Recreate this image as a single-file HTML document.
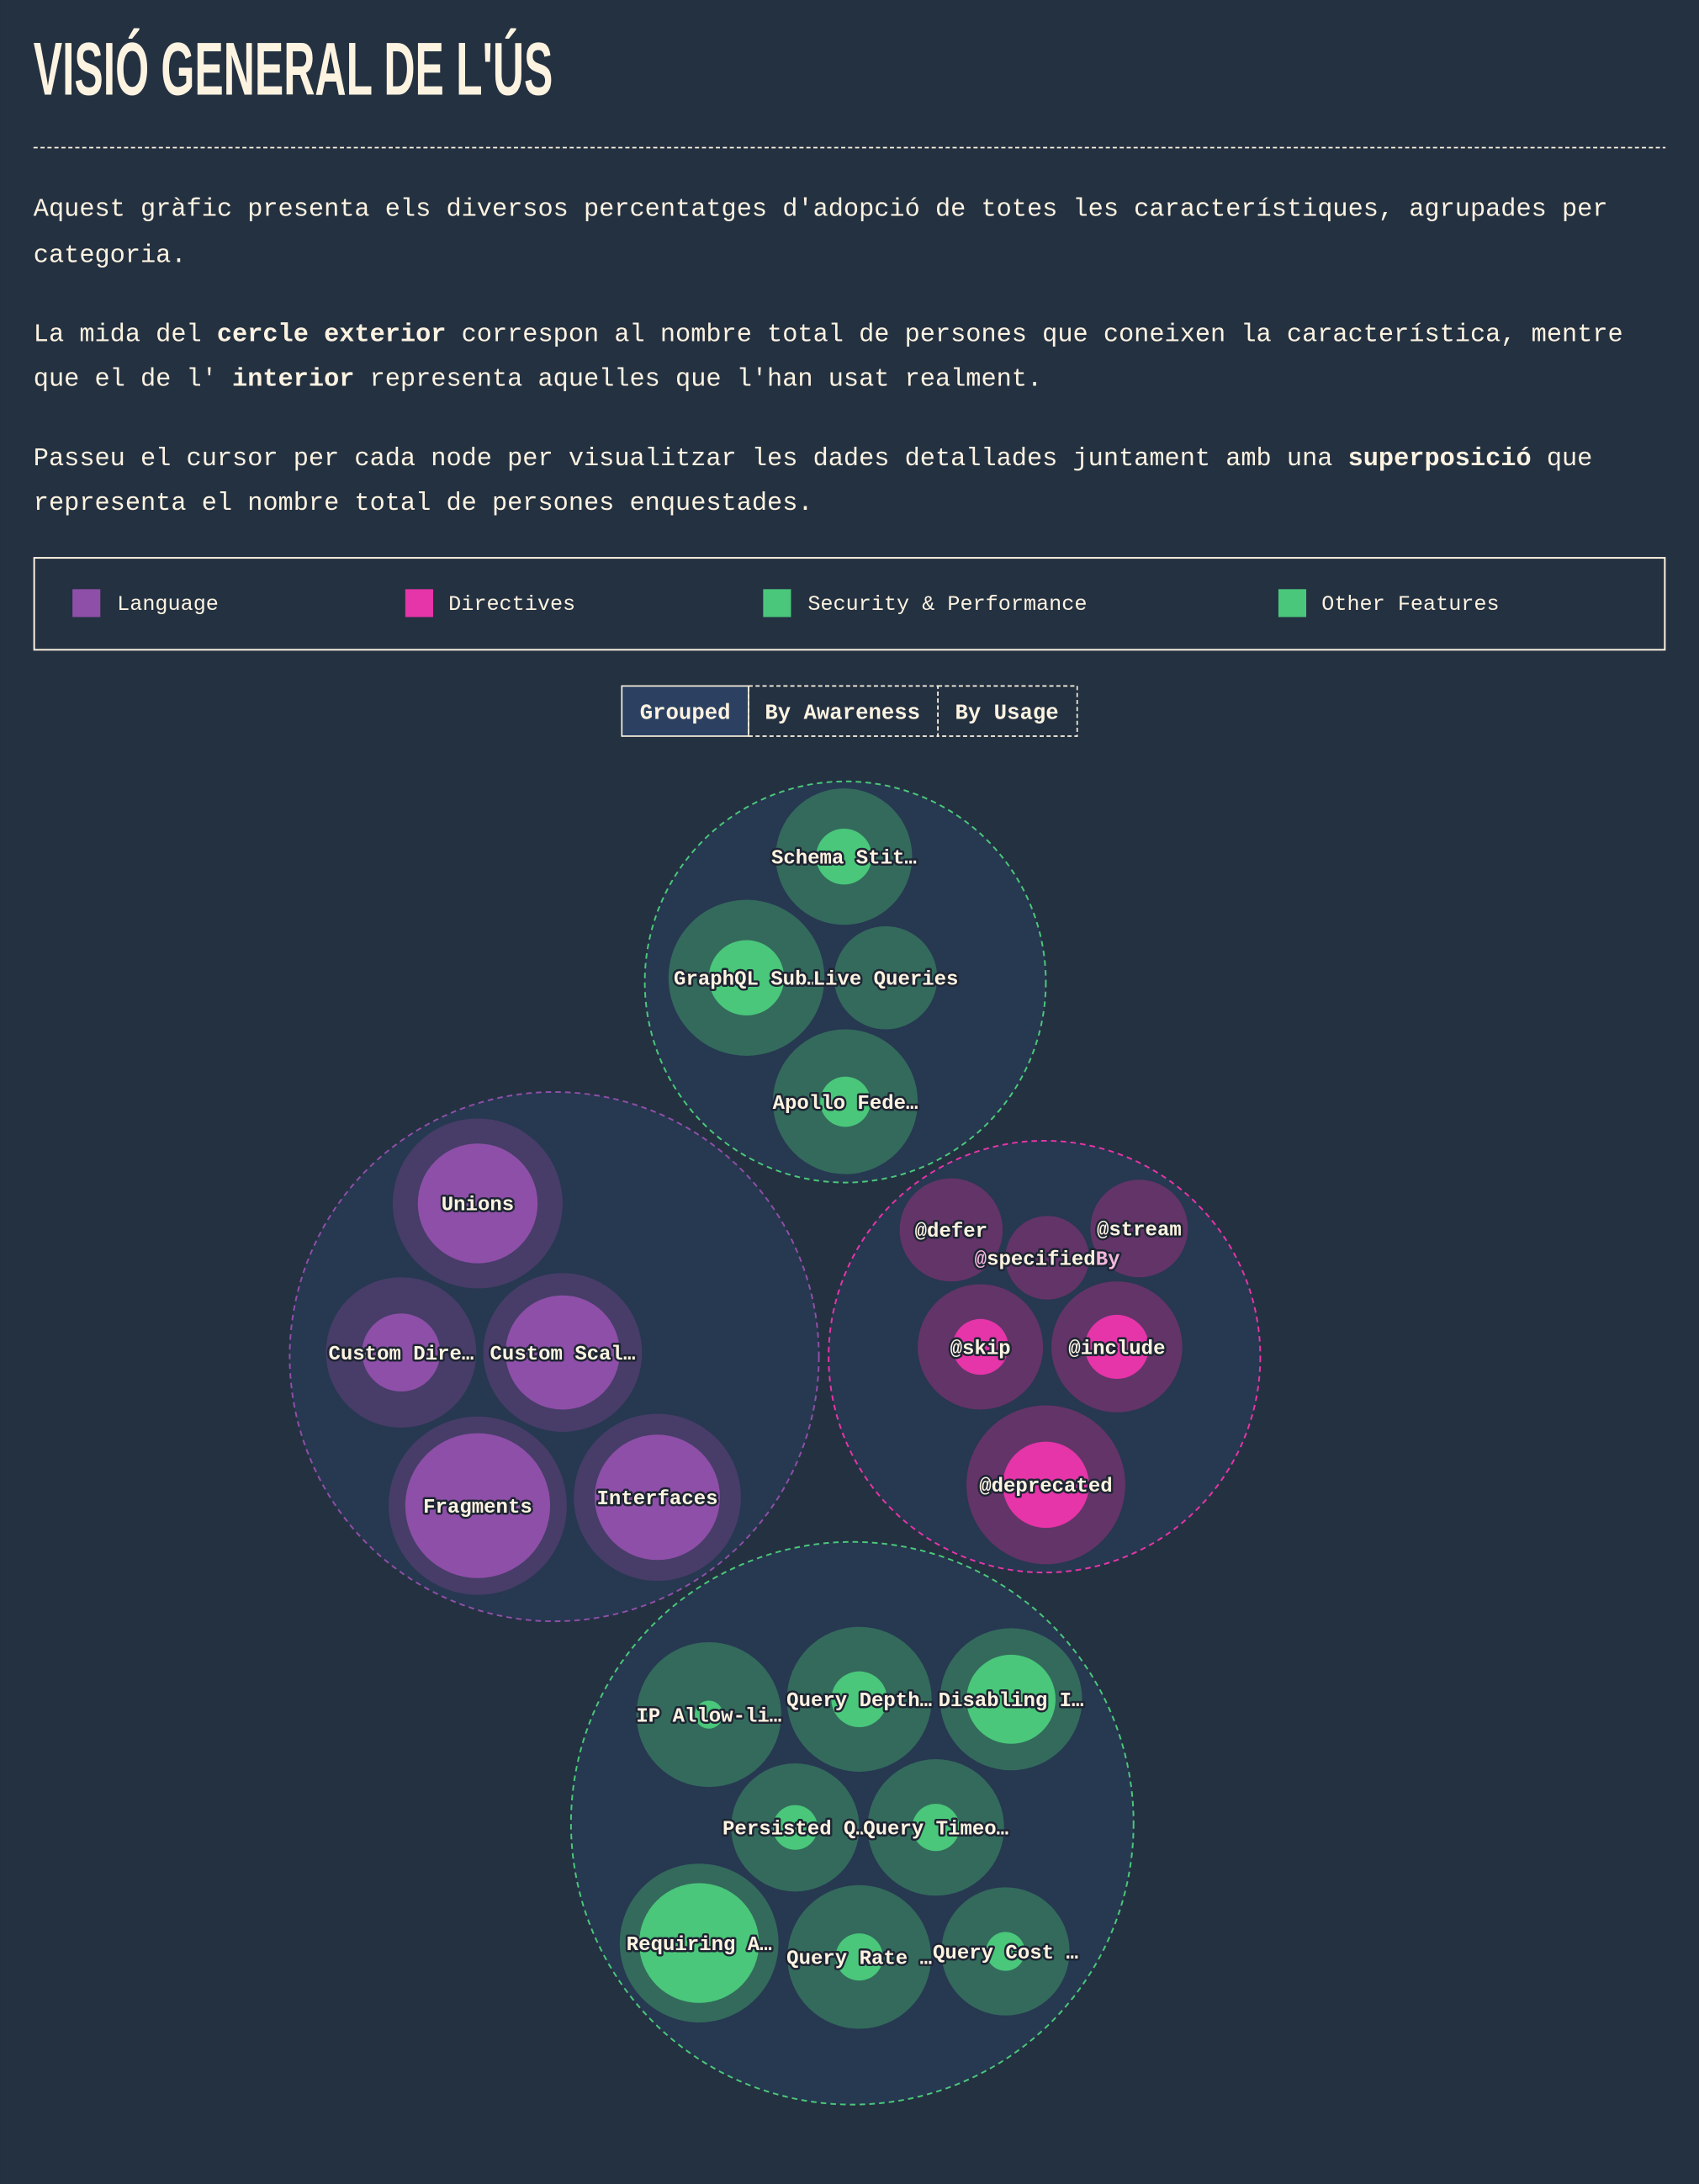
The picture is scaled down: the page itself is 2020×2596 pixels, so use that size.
<!DOCTYPE html>
<html><head><meta charset="utf-8"><style>
html,body{margin:0;padding:0;background:#243141;}
svg{display:block}
.mono{font-family:"Liberation Mono",monospace}
</style></head><body>
<svg id="chart" width="2020" height="2596" viewBox="0 0 1220 1568" xmlns="http://www.w3.org/2000/svg">
<rect width="1220" height="1568" fill="#243141"/>
<text x="24" y="68" fill="#fdf3e1" font-family="Liberation Sans Narrow, Liberation Sans, sans-serif" font-weight="bold" font-size="54" textLength="373" lengthAdjust="spacingAndGlyphs">VISIÓ GENERAL DE L'ÚS</text>
<line x1="24" y1="106" x2="1196" y2="106" stroke="#fdf3e1" stroke-width="1" stroke-dasharray="3,2"/>
<g class="mono" font-size="18.3" fill="#fdf3e1">
<text x="24" y="155">Aquest gràfic presenta els diversos percentatges d'adopció de totes les característiques, agrupades per</text>
<text x="24" y="188">categoria.</text>
<text x="24" y="245">La mida del <tspan font-weight="bold">cercle exterior</tspan> correspon al nombre total de persones que coneixen la característica, mentre</text>
<text x="24" y="277">que el de l' <tspan font-weight="bold">interior</tspan> representa aquelles que l'han usat realment.</text>
<text x="24" y="334">Passeu el cursor per cada node per visualitzar les dades detallades juntament amb una <tspan font-weight="bold">superposició</tspan> que</text>
<text x="24" y="366">representa el nombre total de persones enquestades.</text>
</g>
<g class="mono" font-size="15.2" fill="#fdf3e1">
<rect x="24.5" y="400.5" width="1171" height="66" fill="none" stroke="#fdf3e1" stroke-width="1.2"/>
<g><rect x="52" y="423" width="20" height="20" fill="#8e4fa8"/><text x="84" y="438">Language</text></g>
<g><rect x="291" y="423" width="20" height="20" fill="#e535a8"/><text x="322" y="438">Directives</text></g>
<g><rect x="548" y="423" width="20" height="20" fill="#4ac77a"/><text x="580" y="438">Security &amp; Performance</text></g>
<g><rect x="918" y="423" width="20" height="20" fill="#4ac77a"/><text x="949" y="438">Other Features</text></g>
</g>
<g class="mono" font-size="15.5" font-weight="bold" fill="#fdf3e1" text-anchor="middle">
<g><rect x="446.5" y="492.5" width="91" height="36" fill="#2c4162" stroke="#fdf3e1"/><text x="492" y="516">Grouped</text></g>
<g><rect x="537.5" y="492.5" width="136" height="36" fill="none" stroke="#fdf3e1" stroke-dasharray="3,2"/><text x="605" y="516">By Awareness</text></g>
<g><rect x="673.5" y="492.5" width="100" height="36" fill="none" stroke="#fdf3e1" stroke-dasharray="3,2"/><text x="723" y="516">By Usage</text></g>
</g>
<g id="bubbles"></g>
</svg>
<script>
// data
const groupNames = ["Other Features","Language","Directives","Security & Performance"];
const featureNames = ["Schema Stit…","GraphQL Sub…","Live Queries","Apollo Fede…",
 "Unions","Custom Dire…","Custom Scal…","Fragments","Interfaces",
 "@defer","@stream","@specifiedBy","@skip","@include","@deprecated",
 "IP Allow-li…","Query Depth…","Disabling I…","Persisted Q…","Query Timeo…","Requiring A…","Query Rate …","Query Cost …"];
const featureGroup = [0,0,0,0, 1,1,1,1,1, 2,2,2,2,2,2, 3,3,3,3,3,3,3,3];
const awareness = [56.8,74.2,32.4,64, 88,69,76.9,96.9,85.2, 32.4,29,21.3,47.9,52.3,76.9, 64,64,61.6,50.1,56.8,76.9,63,50.1];
const usage = [9.5,17.3,0.4,7.7, 43.8,18.6,39.8,64,47.9, 0,0,0,9.5,12.5,22.7, 2.4,9.5,24.2,6.1,6.8,43.8,6.8,4.6];
// layout (pack positions, not data)
const groupLayout = [[607,705,144],[398,974,190],[750,974,155],[612,1309,202]];
const nodeLayout = [[606,615],[536,702],[636,702],[607,791],
 [343,864],[288,971],[404,971],[343,1081],[472,1075],
 [683,883],[818,882],[752,903],[704,967],[802,967],[751,1066],
 [509,1231],[617,1220],[726,1220],[571,1312],[672,1312],[502,1395],[617,1405],[722,1401]];
const groupStroke = ["#4ac77a","#8e4fa8","#e535a8","#4ac77a"];
const outerFill = ["#336a5c","#473d68","#633468","#336a5c"];
const innerFill = ["#4ac77a","#8e4fa8","#e535a8","#4ac77a"];
const rScale = v => 6.5*Math.sqrt(v);
const NS="http://www.w3.org/2000/svg";
const root=document.getElementById('bubbles');
function mk(tag,attrs,parent){const e=document.createElementNS(NS,tag);for(const k in attrs)e.setAttribute(k,attrs[k]);parent.appendChild(e);return e;}
groupLayout.forEach((g,i)=>{
  const c=mk('circle',{cx:g[0],cy:g[1],r:g[2],fill:'#273851',stroke:groupStroke[i],'stroke-width':1.2,'stroke-dasharray':'4,3'},root);
  
  
});
const labels=[];
featureNames.forEach((n,i)=>{
  const [x,y]=nodeLayout[i];const gi=featureGroup[i];
  const g=mk('g',{},root);
  
  
  mk('circle',{cx:x,cy:y,r:rScale(awareness[i]),fill:outerFill[gi]},g);
  if(usage[i]>0) mk('circle',{cx:x,cy:y,r:rScale(usage[i]),fill:innerFill[gi]},g);
  labels.push([n,x,y]);
});
labels.forEach(([n,x,y])=>{
  const t=mk('text',{x:x,y:y+5,'text-anchor':'middle','font-family':'Liberation Mono, monospace','font-weight':'bold','font-size':14.5,fill:'#fdf3e1',stroke:'#1e2533','stroke-width':3,'paint-order':'stroke','stroke-linejoin':'round'},root);
  
  
  if(n==='@specifiedBy'){
    const a=mk('tspan',{fill:'#f4b6dc'},t);a.textContent='@';
    const b=mk('tspan',{},t);b.textContent='specified';
    const c=mk('tspan',{fill:'#f4b6dc'},t);c.textContent='By';
  } else t.textContent=n;
});
</script>
</body></html>
